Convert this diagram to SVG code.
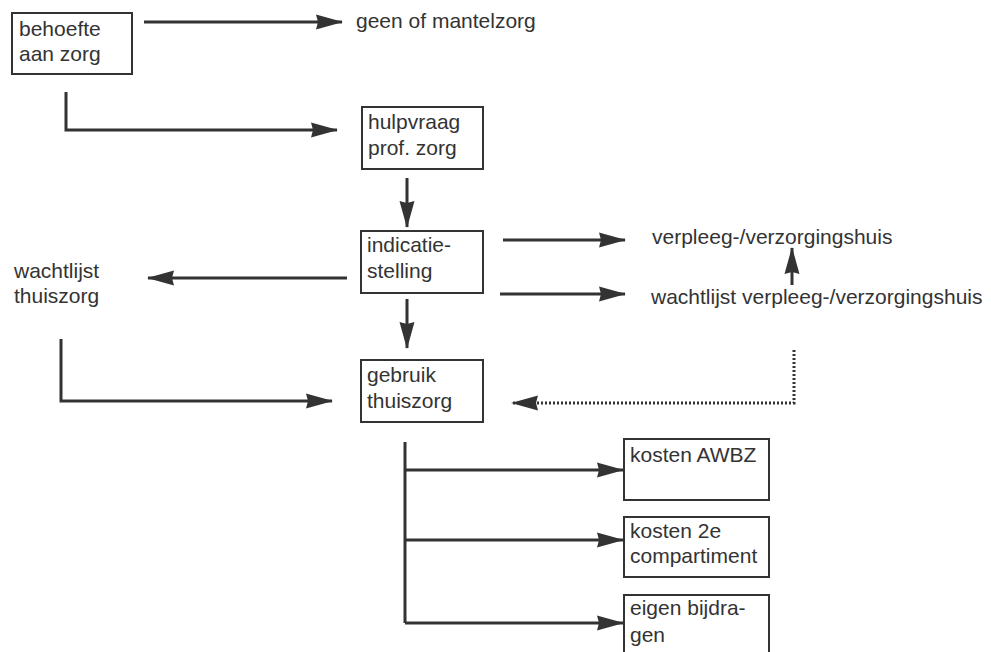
<svg xmlns="http://www.w3.org/2000/svg" width="991" height="652" viewBox="0 0 991 652">
<defs>
<style>
text{font-family:"Liberation Sans",Arial,sans-serif;font-size:21px;fill:#333}
.box{fill:#fff;stroke:#333;stroke-width:2}
.ln{fill:none;stroke:#333;stroke-width:3}
.dot{fill:none;stroke:#333;stroke-width:3;stroke-dasharray:2 2}
</style>
<marker id="ah" markerUnits="userSpaceOnUse" markerWidth="28" markerHeight="18" refX="26" refY="9" orient="auto" viewBox="0 0 28 18">
<path d="M0,1.5 L27,9 L0,16.5 L2,9 Z" fill="#333"/>
</marker>
</defs>
<rect width="991" height="652" fill="#fff"/>
<g id="connectors">
<line class="ln" x1="144" y1="22" x2="342" y2="22" marker-end="url(#ah)"/>
<polyline class="ln" points="66,92 66,130 337,130" marker-end="url(#ah)"/>
<line class="ln" x1="407" y1="178" x2="407" y2="227" marker-end="url(#ah)"/>
<line class="ln" x1="407" y1="299" x2="407" y2="348" marker-end="url(#ah)"/>
<line class="ln" x1="347" y1="278" x2="148" y2="278" marker-end="url(#ah)"/>
<polyline class="ln" points="61,339 61,401 332,401" marker-end="url(#ah)"/>
<line class="ln" x1="503" y1="240" x2="625" y2="240" marker-end="url(#ah)"/>
<line class="ln" x1="500" y1="294" x2="625" y2="294" marker-end="url(#ah)"/>
<line class="ln" x1="792" y1="285" x2="792" y2="248" marker-end="url(#ah)"/>
<polyline class="dot" points="794,350 794,403 512,403" marker-end="url(#ah)"/>
<line class="ln" x1="405" y1="442" x2="405" y2="623"/>
<line class="ln" x1="405" y1="470" x2="623" y2="470" marker-end="url(#ah)"/>
<line class="ln" x1="405" y1="540" x2="623" y2="540" marker-end="url(#ah)"/>
<line class="ln" x1="405" y1="623" x2="623" y2="623" marker-end="url(#ah)"/>
</g>
<g id="behoefte">
<rect class="box" x="12" y="13" width="120" height="61"/>
<text x="19" y="36">behoefte</text>
<text x="19" y="61">aan zorg</text>
</g>
<g id="mantelzorg">
<text x="356" y="28">geen of mantelzorg</text>
</g>
<g id="hulpvraag">
<rect class="box" x="362" y="107" width="121" height="62"/>
<text x="368" y="129">hulpvraag</text>
<text x="368" y="155">prof. zorg</text>
</g>
<g id="indicatie">
<rect class="box" x="361" y="231" width="122" height="62"/>
<text x="367" y="252">indicatie-</text>
<text x="367" y="278">stelling</text>
</g>
<g id="wachtlijst-thuiszorg">
<text x="14" y="278">wachtlijst</text>
<text x="14" y="303">thuiszorg</text>
</g>
<g id="verpleeghuis">
<text x="652" y="244">verpleeg-/verzorgingshuis</text>
</g>
<g id="wachtlijst-verpleeghuis">
<text x="651" y="304">wachtlijst verpleeg-/verzorgingshuis</text>
</g>
<g id="gebruik">
<rect class="box" x="361" y="360" width="122" height="62"/>
<text x="367" y="382">gebruik</text>
<text x="367" y="408">thuiszorg</text>
</g>
<g id="awbz">
<rect class="box" x="624" y="439" width="145" height="61"/>
<text x="630" y="462">kosten AWBZ</text>
</g>
<g id="compartiment">
<rect class="box" x="624" y="517" width="145" height="60"/>
<text x="630" y="538">kosten 2e</text>
<text x="630" y="563">compartiment</text>
</g>
<g id="bijdragen">
<rect class="box" x="624" y="595" width="145" height="70"/>
<text x="630" y="615">eigen bijdra-</text>
<text x="630" y="642">gen</text>
</g>
</svg>
